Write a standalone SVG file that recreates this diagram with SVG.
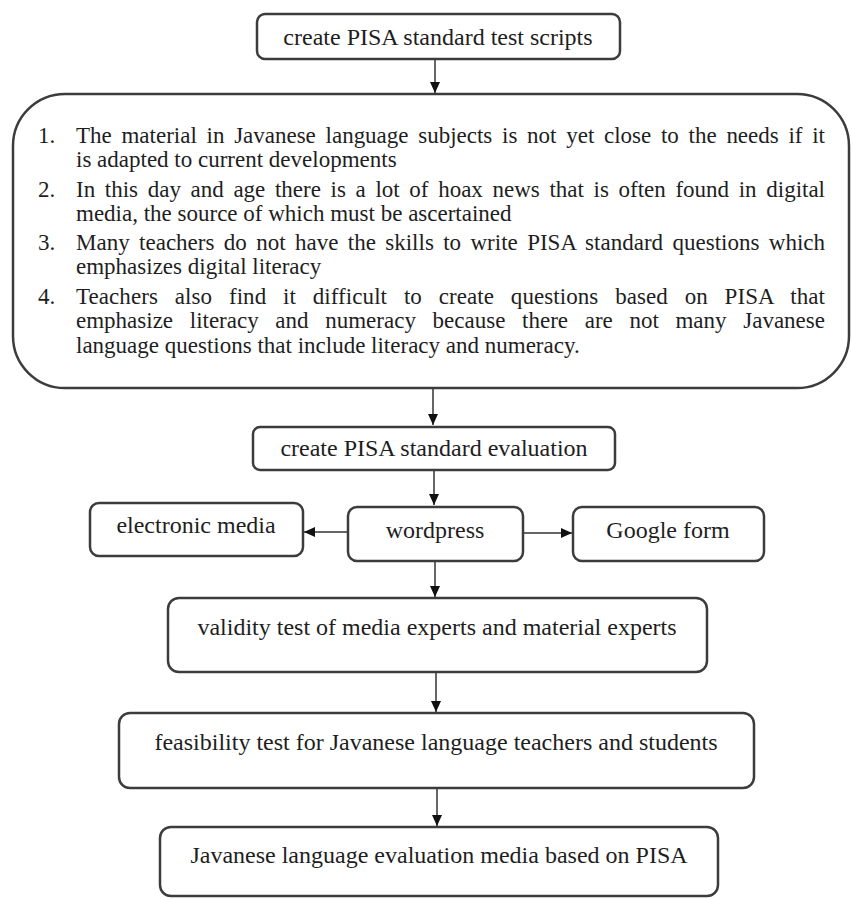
<svg xmlns="http://www.w3.org/2000/svg" width="852" height="899" viewBox="0 0 852 899">
<defs>
<style>
.box{fill:#fff;stroke:#3c3c3c;stroke-width:2.5}
.lbl{font-family:"Liberation Serif","Times New Roman",serif;font-size:24px;fill:#1e1e1e;text-anchor:middle}
.body{font-family:"Liberation Serif","Times New Roman",serif;font-size:23px;fill:#1e1e1e}
.con{stroke:#333;stroke-width:1.5;fill:none;marker-end:url(#ah)}
</style>
<marker id="ah" markerUnits="userSpaceOnUse" markerWidth="11" markerHeight="10" refX="11" refY="5" orient="auto">
<path d="M0,0 L11,5 L0,10 z" fill="#111"/>
</marker>
</defs>
<rect width="852" height="899" fill="#fff"/>
<g id="connectors">
<line class="con" x1="435" y1="59" x2="435" y2="93"/>
<line class="con" x1="433" y1="388" x2="433" y2="425"/>
<line class="con" x1="434" y1="470" x2="434" y2="505"/>
<line class="con" x1="348" y1="532" x2="304" y2="532"/>
<line class="con" x1="523" y1="533" x2="572" y2="533"/>
<line class="con" x1="435" y1="561" x2="435" y2="597"/>
<line class="con" x1="436" y1="672" x2="436" y2="712"/>
<line class="con" x1="437" y1="788" x2="437" y2="826"/>
</g>
<g id="n1">
<rect class="box" x="257" y="14" width="363" height="45" rx="8"/>
<text class="lbl" x="438" y="45">create PISA standard test scripts</text>
</g>
<g id="n2">
<rect class="box" x="13" y="94" width="836" height="294" rx="52"/>
<text class="body" x="38" y="143">1.</text>
<text class="body" x="76" y="143" word-spacing="4" textLength="749" lengthAdjust="spacing">The material in Javanese language subjects is not yet close to the needs if it</text>
<text class="body" x="76" y="167">is adapted to current developments</text>
<text class="body" x="38" y="197">2.</text>
<text class="body" x="76" y="197" word-spacing="3.9" textLength="749" lengthAdjust="spacing">In this day and age there is a lot of hoax news that is often found in digital</text>
<text class="body" x="76" y="221">media, the source of which must be ascertained</text>
<text class="body" x="38" y="250">3.</text>
<text class="body" x="76" y="250" word-spacing="3.6" textLength="749" lengthAdjust="spacing">Many teachers do not have the skills to write PISA standard questions which</text>
<text class="body" x="76" y="274">emphasizes digital literacy</text>
<text class="body" x="38" y="304">4.</text>
<text class="body" x="76" y="304" word-spacing="11" textLength="749" lengthAdjust="spacing">Teachers also find it difficult to create questions based on PISA that</text>
<text class="body" x="76" y="328" word-spacing="10.9" textLength="749" lengthAdjust="spacing">emphasize literacy and numeracy because there are not many Javanese</text>
<text class="body" x="76" y="353">language questions that include literacy and numeracy.</text>
</g>
<g id="n3">
<rect class="box" x="253" y="427" width="362" height="43" rx="7"/>
<text class="lbl" x="434" y="456">create PISA standard evaluation</text>
</g>
<g id="n4">
<rect class="box" x="348" y="507" width="175" height="54" rx="9"/>
<text class="lbl" x="435" y="538">wordpress</text>
</g>
<g id="n5">
<rect class="box" x="90" y="503" width="213" height="53" rx="9"/>
<text class="lbl" x="196" y="533">electronic media</text>
</g>
<g id="n6">
<rect class="box" x="573" y="507" width="191" height="54" rx="9"/>
<text class="lbl" x="668" y="538">Google form</text>
</g>
<g id="n7">
<rect class="box" x="168" y="598" width="539" height="74" rx="11"/>
<text class="lbl" x="437" y="635">validity test of media experts and material experts</text>
</g>
<g id="n8">
<rect class="box" x="119" y="713" width="635" height="75" rx="11"/>
<text class="lbl" x="436" y="750">feasibility test for Javanese language teachers and students</text>
</g>
<g id="n9">
<rect class="box" x="160" y="827" width="558" height="69" rx="11"/>
<text class="lbl" x="439" y="863">Javanese language evaluation media based on PISA</text>
</g>
</svg>
